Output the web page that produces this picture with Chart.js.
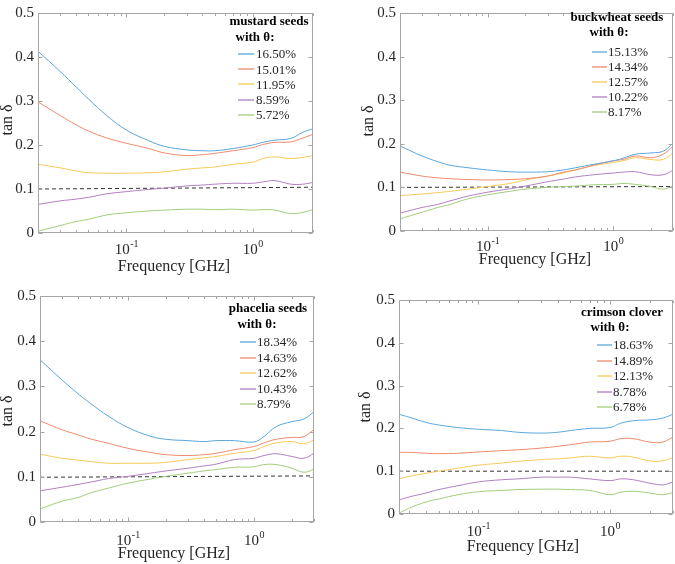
<!DOCTYPE html>
<html><head><meta charset="utf-8">
<script src="https://cdn.jsdelivr.net/npm/chart.js@4"></script>
<style>
html,body{margin:0;padding:0;background:#fff;}
#wrap{position:relative;width:675px;height:564px;}
canvas{position:absolute;left:0;top:0;}
</style>
</head><body>
<div id="wrap">
<canvas id="c0" width="675" height="564"></canvas>
<canvas id="c1" width="675" height="564"></canvas>
<canvas id="c2" width="675" height="564"></canvas>
<canvas id="c3" width="675" height="564"></canvas>
</div>
<script>
// ---------- DATA ----------
const freqA = [0.02, 0.03, 0.04, 0.05, 0.07, 0.1, 0.15, 0.2, 0.3, 0.4, 0.5, 0.7, 1.0, 1.2, 1.5, 2.0, 2.5, 3.0];
const freqB = [0.025, 0.03, 0.04, 0.05, 0.07, 0.1, 0.15, 0.2, 0.3, 0.4, 0.5, 0.7, 1.0, 1.2, 1.5, 2.0, 2.5, 3.0];

const yTicks = [0, 0.1, 0.2, 0.3, 0.4, 0.5];
const xTickDecades = [0.1, 1];
const xTickExponents = ['-1', '0'];
const xTitle = 'Frequency [GHz]';
const yTitle = 'tan δ';

// Panel 1: mustard seeds
const mustardTitle = ['mustard seeds', 'with θ:'];
const mustardLabels = ['16.50%', '15.01%', '11.95%', '8.59%', '5.72%'];
const mustard1650 = [0.413, 0.367, 0.332, 0.305, 0.267, 0.234, 0.21, 0.197, 0.189, 0.187, 0.187, 0.192, 0.2, 0.206, 0.211, 0.215, 0.229, 0.237];
const mustard1501 = [0.298, 0.267, 0.246, 0.232, 0.216, 0.204, 0.192, 0.182, 0.176, 0.178, 0.181, 0.187, 0.194, 0.201, 0.206, 0.207, 0.216, 0.224];
const mustard1195 = [0.156, 0.148, 0.141, 0.137, 0.136, 0.136, 0.137, 0.139, 0.145, 0.148, 0.15, 0.156, 0.161, 0.169, 0.173, 0.169, 0.172, 0.176];
const mustard859  = [0.065, 0.073, 0.077, 0.081, 0.089, 0.094, 0.099, 0.102, 0.107, 0.109, 0.111, 0.113, 0.113, 0.116, 0.119, 0.111, 0.111, 0.115];
const mustard572  = [0.004, 0.017, 0.026, 0.031, 0.041, 0.046, 0.05, 0.052, 0.054, 0.054, 0.053, 0.054, 0.052, 0.053, 0.052, 0.044, 0.047, 0.053];
const mustardRef  = [0.1, 0.104];

// Panel 2: buckwheat seeds
const buckTitle = ['buckwheat seeds', 'with θ:'];
const buckLabels = ['15.13%', '14.34%', '12.57%', '10.22%', '8.17%'];
const buck1513 = [0.195, 0.172, 0.159, 0.151, 0.145, 0.14, 0.136, 0.135, 0.136, 0.14, 0.145, 0.153, 0.161, 0.167, 0.176, 0.179, 0.183, 0.201];
const buck1434 = [0.135, 0.126, 0.122, 0.12, 0.118, 0.117, 0.118, 0.12, 0.126, 0.135, 0.14, 0.151, 0.161, 0.164, 0.172, 0.168, 0.176, 0.194];
const buck1257 = [0.081, 0.085, 0.088, 0.091, 0.096, 0.102, 0.109, 0.117, 0.126, 0.133, 0.14, 0.15, 0.157, 0.161, 0.168, 0.164, 0.164, 0.179];
const buck1022 = [0.041, 0.054, 0.061, 0.069, 0.08, 0.089, 0.097, 0.103, 0.113, 0.119, 0.124, 0.129, 0.133, 0.135, 0.136, 0.129, 0.129, 0.139];
const buck817  = [0.028, 0.043, 0.054, 0.061, 0.074, 0.083, 0.091, 0.096, 0.1, 0.102, 0.103, 0.106, 0.107, 0.109, 0.107, 0.102, 0.096, 0.103];
const buckRef  = [0.1, 0.102];

// Panel 3: phacelia seeds
const phacTitle = ['phacelia seeds', 'with θ:'];
const phacLabels = ['18.34%', '14.63%', '12.62%', '10.43%', '8.79%'];
const phac1834 = [0.359, 0.314, 0.284, 0.263, 0.234, 0.209, 0.19, 0.183, 0.18, 0.178, 0.18, 0.18, 0.177, 0.189, 0.211, 0.222, 0.228, 0.244];
const phac1463 = [0.224, 0.204, 0.193, 0.184, 0.174, 0.163, 0.154, 0.149, 0.147, 0.149, 0.152, 0.16, 0.167, 0.175, 0.183, 0.187, 0.189, 0.205];
const phac1262 = [0.15, 0.141, 0.137, 0.134, 0.13, 0.13, 0.13, 0.132, 0.138, 0.142, 0.145, 0.152, 0.158, 0.167, 0.175, 0.178, 0.173, 0.182];
const phac1043 = [0.069, 0.077, 0.083, 0.088, 0.096, 0.101, 0.108, 0.113, 0.119, 0.124, 0.128, 0.138, 0.141, 0.147, 0.151, 0.145, 0.141, 0.152];
const phac879  = [0.029, 0.046, 0.054, 0.064, 0.075, 0.086, 0.095, 0.101, 0.108, 0.113, 0.116, 0.121, 0.122, 0.127, 0.127, 0.119, 0.11, 0.117];
const phacRef  = [0.099, 0.102];

// Panel 4: crimson clover
const cloverTitle = ['crimson clover', 'with θ:'];
const cloverLabels = ['18.63%', '14.89%', '12.13%', '8.78%', '6.78%'];
const clover1863 = [0.233, 0.226, 0.214, 0.208, 0.202, 0.198, 0.195, 0.191, 0.189, 0.191, 0.195, 0.2, 0.202, 0.212, 0.218, 0.22, 0.224, 0.233];
const clover1489 = [0.144, 0.144, 0.142, 0.141, 0.142, 0.145, 0.148, 0.15, 0.154, 0.158, 0.162, 0.168, 0.17, 0.176, 0.176, 0.168, 0.168, 0.18];
const clover1213 = [0.082, 0.088, 0.095, 0.1, 0.107, 0.114, 0.119, 0.123, 0.127, 0.129, 0.131, 0.135, 0.131, 0.135, 0.133, 0.124, 0.124, 0.132];
const clover878  = [0.033, 0.04, 0.049, 0.057, 0.066, 0.075, 0.08, 0.082, 0.086, 0.086, 0.086, 0.082, 0.078, 0.082, 0.08, 0.072, 0.068, 0.075];
const clover678  = [0.002, 0.014, 0.028, 0.035, 0.045, 0.052, 0.055, 0.057, 0.058, 0.058, 0.057, 0.055, 0.045, 0.051, 0.053, 0.049, 0.045, 0.05];
const cloverRef  = [0.1, 0.1];

// ---------- STYLE / LAYOUT ----------
const colors = ['#5aa7db', '#ef8a6c', '#f6c95a', '#b07fc2', '#a2cd7c'];
const FONT = "'Liberation Serif', 'Times New Roman', serif";
const TXT = '#262626';

const panels = [
  { id: 'c0', freq: freqA, series: [mustard1650, mustard1501, mustard1195, mustard859, mustard572], labels: mustardLabels, title: mustardTitle, ref: mustardRef,
    area: { l: 38, t: 8, r: 313, b: 233 }, tickDy: 21, titleX: 174, titleDy: 34, ylab: { x: 8, y: 120 },
    leg: { t1x: 269, t1y: 22, t2x: 255, t2y: 38, lx0: 238, lx1: 254, tx: 256, y0: 54, dy: 15.2 } },
  { id: 'c1', freq: freqA, series: [buck1513, buck1434, buck1257, buck1022, buck817], labels: buckLabels, title: buckTitle, ref: buckRef,
    area: { l: 400, t: 5, r: 673, b: 231 }, tickDy: 20, titleX: 535, titleDy: 29, ylab: { x: 369, y: 121 },
    leg: { t1x: 617, t1y: 18, t2x: 609, t2y: 33, lx0: 592, lx1: 607, tx: 608, y0: 52, dy: 15 } },
  { id: 'c2', freq: freqA, series: [phac1834, phac1463, phac1262, phac1043, phac879], labels: phacLabels, title: phacTitle, ref: phacRef,
    area: { l: 40, t: 296, r: 314, b: 522 }, tickDy: 23, titleX: 174, titleDy: 32, ylab: { x: 8, y: 411 },
    leg: { t1x: 268, t1y: 309, t2x: 257, t2y: 325, lx0: 240, lx1: 256, tx: 257, y0: 342, dy: 15.5 } },
  { id: 'c3', freq: freqB, series: [clover1863, clover1489, clover1213, clover878, clover678], labels: cloverLabels, title: cloverTitle, ref: cloverRef,
    area: { l: 399, t: 300, r: 673, b: 514 }, tickDy: 22, titleX: 523, titleDy: 33, ylab: { x: 366, y: 407 },
    leg: { t1x: 622, t1y: 313, t2x: 610, t2y: 328, lx0: 597, lx1: 612, tx: 613, y0: 345, dy: 15.5 } }
];

const Y_AXIS_W = 34;

const decoPlugin = {
  id: 'deco',
  afterDraw(chart) {
    const p = chart.options.plugins.deco.panel;
    const { ctx, chartArea: a } = chart;
    const xs = chart.scales.x, ys = chart.scales.y;
    ctx.save();
    const L = Math.round(a.left) + 0.5, R = Math.round(a.right) - 0.5;
    const T = Math.round(a.top) + 0.5, B = Math.round(a.bottom) - 0.5;
    ctx.strokeStyle = '#a6a6a6';
    ctx.lineWidth = 1;
    ctx.strokeRect(L, T, R - L, B - T);
    ctx.beginPath();
    const xmin = xs.min, xmax = xs.max;
    for (let e = -2; e <= 1; e++) {
      for (let k = 1; k <= 9; k++) {
        const v = k * Math.pow(10, e);
        if (v < xmin * 0.999 || v > xmax * 1.001) continue;
        const px = Math.round(xs.getPixelForValue(v)) + 0.5;
        const len = k === 1 ? 4 : 2.5;
        ctx.moveTo(px, B); ctx.lineTo(px, B - len);
        ctx.moveTo(px, T); ctx.lineTo(px, T + len);
      }
    }
    yTicks.forEach(v => {
      const py = Math.round(ys.getPixelForValue(v)) + 0.5;
      ctx.moveTo(L, py); ctx.lineTo(L + 4, py);
      ctx.moveTo(R, py); ctx.lineTo(R - 4, py);
    });
    ctx.stroke();
    ctx.fillStyle = TXT;
    ctx.textBaseline = 'alphabetic';
    xTickDecades.forEach((v, i) => {
      const px = xs.getPixelForValue(v);
      ctx.font = '15px ' + FONT;
      const wb = ctx.measureText('10').width;
      ctx.font = '10px ' + FONT;
      const we = ctx.measureText(xTickExponents[i]).width;
      const x0 = px - (wb + we) / 2;
      const base = a.bottom + p.tickDy;
      ctx.font = '15px ' + FONT;
      ctx.textAlign = 'left';
      ctx.fillText('10', x0, base);
      ctx.font = '10px ' + FONT;
      ctx.fillText(xTickExponents[i], x0 + wb + 0.5, base - 7);
    });
    ctx.font = '16px ' + FONT;
    ctx.textAlign = 'center';
    ctx.textBaseline = 'middle';
    ctx.fillText(xTitle, p.titleX, a.bottom + p.titleDy);
    ctx.save();
    ctx.translate(p.ylab.x, p.ylab.y);
    ctx.rotate(-Math.PI / 2);
    ctx.fillText(yTitle, 0, 0);
    ctx.restore();
    const g = p.leg;
    ctx.font = 'bold 13px ' + FONT;
    ctx.fillStyle = '#000';
    ctx.fillText(p.title[0], g.t1x, g.t1y);
    ctx.fillText(p.title[1], g.t2x, g.t2y);
    ctx.font = '13px ' + FONT;
    ctx.textAlign = 'left';
    ctx.fillStyle = TXT;
    p.labels.forEach((lab, i) => {
      const yy = g.y0 + i * g.dy;
      ctx.strokeStyle = colors[i];
      ctx.lineWidth = 1.3;
      ctx.beginPath();
      ctx.moveTo(g.lx0, Math.round(yy));
      ctx.lineTo(g.lx1, Math.round(yy));
      ctx.stroke();
      ctx.fillText(lab, g.tx, yy + 1);
    });
    ctx.restore();
  }
};

panels.forEach(p => {
  const datasets = p.series.map((s, i) => ({
    label: p.labels[i],
    data: p.freq.map((f, j) => ({ x: f, y: s[j] })),
    borderColor: colors[i],
    borderWidth: 1,
    pointRadius: 0,
    tension: 0.4,
    fill: false
  }));
  const f0 = p.freq[0], f1 = p.freq[p.freq.length - 1];
  datasets.push({
    label: 'ref',
    data: [{ x: f0, y: p.ref[0] }, { x: f1, y: p.ref[1] }],
    borderColor: '#333333',
    borderWidth: 1,
    borderDash: [4, 3],
    pointRadius: 0,
    fill: false
  });
  const a = p.area;
  new Chart(document.getElementById(p.id), {
    type: 'line',
    data: { datasets },
    options: {
      responsive: false,
      animation: false,
      events: [],
      layout: { padding: { left: a.l - Y_AXIS_W, top: a.t, right: 675 - a.r, bottom: 564 - a.b } },
      scales: {
        x: {
          type: 'logarithmic', min: f0, max: f1,
          ticks: { display: false },
          grid: { display: false },
          border: { display: false },
          afterFit(s) { s.height = 0; }
        },
        y: {
          type: 'linear', min: 0, max: 0.5,
          afterBuildTicks(s) { s.ticks = yTicks.map(v => ({ value: v })); },
          ticks: { color: TXT, font: { family: FONT, size: 15 }, padding: 4,
                   callback: v => String(Math.round(v * 10) / 10) },
          grid: { display: false, drawTicks: false, tickLength: 0 },
          border: { display: false },
          afterFit(s) { s.width = Y_AXIS_W; }
        }
      },
      plugins: { legend: { display: false }, tooltip: { enabled: false }, deco: { panel: p } }
    },
    plugins: [decoPlugin]
  });
});
</script>
</body></html>
